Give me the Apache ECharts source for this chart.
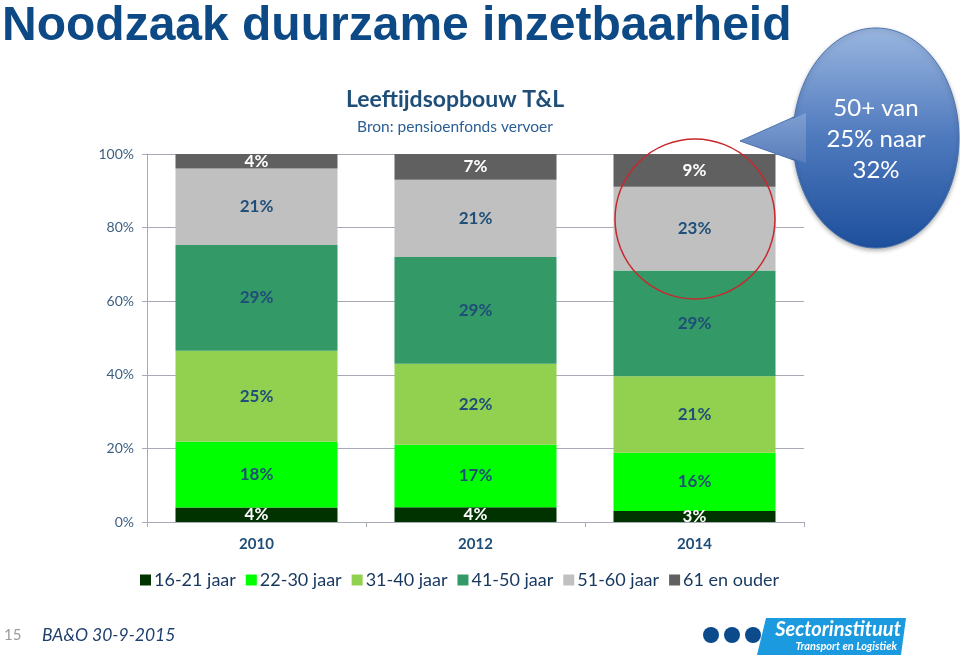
<!DOCTYPE html>
<html>
<head>
<meta charset="utf-8">
<script src="https://cdn.jsdelivr.net/npm/echarts@6/dist/echarts.min.js"></script>
<style>
html,body{margin:0;padding:0;background:#fff;}
#chart{width:960px;height:659px;}
</style>
</head>
<body>
<div id="chart"></div>
<script>
const categories = ['2010', '2012', '2014'];
const seriesNames = ['16-21 jaar', '22-30 jaar', '31-40 jaar', '41-50 jaar', '51-60 jaar', '61 en ouder'];
const age16_21 = [4, 4, 3];
const age22_30 = [18, 17, 16];
const age31_40 = [25, 22, 21];
const age41_50 = [29, 29, 29];
const age51_60 = [21, 21, 23];
const age61plus = [4, 7, 9];
const yTicks = [0, 20, 40, 60, 80, 100];

const raw = [age16_21, age22_30, age31_40, age41_50, age51_60, age61plus];
const colors = ['#003300', '#00ff00', '#92d050', '#339966', '#c0c0c0', '#606060'];
const labelColors = ['#ffffff', '#1f4e79', '#1f4e79', '#1f4e79', '#1f4e79', '#ffffff'];

// 100% stacked: shares per category
const totals = categories.map((c, i) => raw.reduce((s, arr) => s + arr[i], 0));
const shares = raw.map(arr => arr.map((v, i) => v / totals[i] * 100));

const FONT = 'Lato, "Open Sans", sans-serif';

const chart = echarts.init(document.getElementById('chart'), null, {renderer: 'canvas'});

const series = seriesNames.map((name, si) => ({
  name: name,
  type: 'bar',
  stack: 'total',
  barWidth: 162,
  itemStyle: {color: colors[si]},
  label: {
    show: true,
    position: 'inside',
    fontFamily: FONT,
    fontWeight: 'bold',
    fontSize: 17,
    color: labelColors[si],
    formatter: p => raw[si][p.dataIndex] + '%'
  },
  emphasis: {disabled: true},
  data: shares[si]
}));

chart.setOption({
  animation: false,
  backgroundColor: '#ffffff',
  grid: {left: 147, right: 156, top: 154, bottom: 137},
  legend: {
    data: seriesNames,
    left: 135,
    top: 566,
    itemWidth: 11,
    itemHeight: 11,
    itemGap: 10,
    icon: 'rect',
    textStyle: {fontFamily: FONT, fontSize: 18, color: '#17375e', padding: [0, 0, 0, -2]}
  },
  xAxis: {
    type: 'category',
    data: categories,
    axisLine: {show: true, lineStyle: {color: '#a6abb5', width: 1}},
    axisTick: {show: true, length: 5, lineStyle: {color: '#a6abb5'}},
    axisLabel: {fontFamily: FONT, fontWeight: 'bold', fontSize: 15, color: '#1f4e79', margin: 15}
  },
  yAxis: {
    type: 'value',
    min: yTicks[0],
    max: yTicks[yTicks.length - 1],
    interval: yTicks[1] - yTicks[0],
    axisLine: {show: true, lineStyle: {color: '#a6abb5', width: 1}},
    axisTick: {show: true, length: 5, lineStyle: {color: '#a6abb5'}},
    splitLine: {show: true, lineStyle: {color: '#a6abb5', width: 1}},
    axisLabel: {fontFamily: FONT, fontSize: 14, color: '#3d5f80', margin: 13, formatter: '{value}%'}
  },
  series: series,
  graphic: [
    {type: 'text', left: 2, top: 3, style: {text: 'Noodzaak duurzame inzetbaarheid', font: 'bold 48px "Liberation Sans", Arial, sans-serif', fill: '#0d4a85'}},
    {type: 'text', x: 455, y: 100, style: {text: 'Leeftijdsopbouw T&L', font: 'bold 23px ' + FONT, fill: '#1f4e79', align: 'center', verticalAlign: 'middle'}},
    {type: 'text', x: 455, y: 127, style: {text: 'Bron: pensioenfonds vervoer', font: '15.5px ' + FONT, fill: '#2a5f95', align: 'center', verticalAlign: 'middle'}},
    // red circle
    {type: 'circle', shape: {cx: 695, cy: 219, r: 80}, style: {fill: 'none', stroke: '#c8282d', lineWidth: 1.5}, z: 100},
    // callout pointer
    {type: 'polygon', shape: {points: [[740, 141], [805, 112], [805, 164]]}, style: {
      fill: new echarts.graphic.LinearGradient(0, 0, 0, 1, [{offset: 0, color: '#7d9fd2'}, {offset: 1, color: '#5478b8'}]),
      stroke: '#4a72b0', lineWidth: 1}, z: 101},
    {type: 'ellipse', shape: {cx: 876, cy: 138, rx: 83, ry: 110}, style: {
      fill: new echarts.graphic.LinearGradient(0, 0, 0, 1, [{offset: 0, color: '#9ab6e0'}, {offset: 0.5, color: '#4e79bd'}, {offset: 1, color: '#1d4f9c'}]),
      stroke: '#4a72b0', lineWidth: 1, shadowBlur: 4, shadowColor: 'rgba(0,0,0,0.3)', shadowOffsetY: 2}, z: 102},
    {type: 'polygon', shape: {points: [[742, 141], [806, 113], [806, 163]]}, style: {
      fill: new echarts.graphic.LinearGradient(0, 0, 0, 1, [{offset: 0, color: '#7d9fd2'}, {offset: 1, color: '#5a7dbb'}])}, z: 103},
    {type: 'text', x: 876, y: 108, style: {text: '50+ van', font: '24px ' + FONT, fill: '#ffffff', align: 'center', verticalAlign: 'middle'}, z: 104},
    {type: 'text', x: 876, y: 139, style: {text: '25% naar', font: '24px ' + FONT, fill: '#ffffff', align: 'center', verticalAlign: 'middle'}, z: 104},
    {type: 'text', x: 876, y: 170, style: {text: '32%', font: '24px ' + FONT, fill: '#ffffff', align: 'center', verticalAlign: 'middle'}, z: 104},
    // footer
    {type: 'text', x: 4, y: 635, style: {text: '15', font: '15px ' + FONT, fill: '#9a9a9a', verticalAlign: 'middle'}},
    {type: 'text', x: 42, y: 635, style: {text: 'BA&O 30-9-2015', font: 'italic 17.5px ' + FONT, fill: '#1f3f6f', verticalAlign: 'middle'}},
    // logo
    {type: 'circle', shape: {cx: 711, cy: 635, r: 8}, style: {fill: '#0b4a8b'}},
    {type: 'circle', shape: {cx: 732, cy: 635, r: 8}, style: {fill: '#0b4a8b'}},
    {type: 'circle', shape: {cx: 753, cy: 635, r: 8}, style: {fill: '#0b4a8b'}},
    {type: 'polygon', shape: {points: [[766, 618], [906, 618], [901, 655], [757, 655]]}, style: {fill: '#1b9ae0'}},
    {type: 'text', x: 901, y: 630, style: {text: 'Sectorinstituut', font: 'italic bold 20px ' + FONT, fill: '#ffffff', align: 'right', verticalAlign: 'middle'}},
    {type: 'text', x: 897, y: 646, style: {text: 'Transport en Logistiek', font: 'italic bold 11px ' + FONT, fill: '#ffffff', align: 'right', verticalAlign: 'middle'}}
  ]
});
</script>
</body>
</html>
